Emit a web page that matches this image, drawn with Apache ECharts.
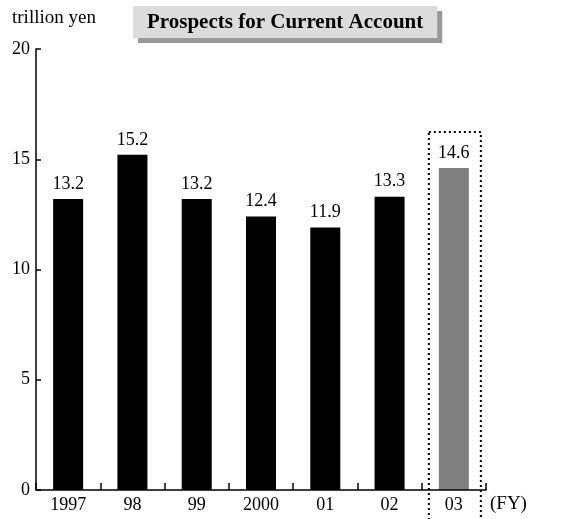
<!DOCTYPE html>
<html>
<head>
<meta charset="utf-8">
<script src="https://cdn.jsdelivr.net/npm/echarts@6/dist/echarts.min.js"></script>
<style>
  html, body { margin: 0; padding: 0; background: #fff; }
  #chart { width: 575px; height: 519px; }
</style>
</head>
<body>
<div id="chart"></div>
<script>
// fiscal years and current account (trillion yen)
const years = ["1997", "98", "99", "2000", "01", "02", "03"]
const values = [13.2, 15.2, 13.2, 12.4, 11.9, 13.3, 14.6]
const projected = [false, false, false, false, false, false, true]
const yTicks = [0, 5, 10, 15, 20]

const FONT = "Liberation Serif"
const chart = echarts.init(document.getElementById("chart"))

chart.setOption({
  backgroundColor: "#fff",
  animation: false,
  title: {
    text: "Prospects for Current Account",
    left: 133,
    top: 6,
    padding: [6, 14, 5, 14],
    backgroundColor: "#dcdcdc",
    shadowColor: "#999",
    shadowOffsetX: 5,
    shadowOffsetY: 5,
    shadowBlur: 0,
    textStyle: { fontFamily: FONT, fontWeight: "bold", fontSize: 21, color: "#000" },
  },
  grid: { left: 36, right: 89, top: 49, bottom: 29 },
  xAxis: {
    type: "category",
    data: years,
    name: "(FY)",
    nameLocation: "end",
    nameGap: 4,
    nameTextStyle: { fontFamily: FONT, fontSize: 19, color: "#000", verticalAlign: "top", padding: [5, 0, 0, 0] },
    axisLine: { lineStyle: { color: "#000", width: 1.5 } },
    axisTick: { show: true, interval: 0, inside: true, length: 7, lineStyle: { color: "#000", width: 1.5 } },
    axisLabel: { fontFamily: FONT, fontSize: 18, color: "#000", margin: 6, interval: 0 },
    z: 5,
  },
  yAxis: {
    type: "value",
    min: yTicks[0],
    max: yTicks[yTicks.length - 1],
    interval: 5,
    name: "trillion yen",
    nameLocation: "end",
    nameGap: 21,
    nameTextStyle: { fontFamily: FONT, fontSize: 19, color: "#000", align: "left", padding: [0, 0, 0, -24] },
    axisLine: { show: true, lineStyle: { color: "#000", width: 1.5 } },
    axisTick: { show: true, inside: true, length: 5, lineStyle: { color: "#000", width: 1.5 } },
    axisLabel: { fontFamily: FONT, fontSize: 18, color: "#000", margin: 6 },
    splitLine: { show: false },
  },
  series: [
    {
      type: "bar",
      barWidth: 30,
      data: values.map((v, i) => ({
        value: v,
        itemStyle: { color: projected[i] ? "#808080" : "#000" },
      })),
      label: {
        show: true,
        position: "top",
        distance: 6,
        fontFamily: FONT,
        fontSize: 18,
        color: "#000",
        formatter: (p) => p.value.toFixed(1),
      },
    },
  ],
})

// dotted frame around the projected year
const idx = projected.indexOf(true)
const cx = chart.convertToPixel({ xAxisIndex: 0 }, years[idx])
const boxTop = chart.convertToPixel({ yAxisIndex: 0 }, values[idx]) - 36
chart.setOption({
  graphic: [
    {
      type: "rect",
      shape: { x: cx - 25, y: boxTop, width: 52, height: 519 - boxTop + 5 },
      style: { fill: "none", stroke: "#000", lineWidth: 2, lineDash: [2, 3] },
      z: 10,
    },
  ],
})
</script>
</body>
</html>
